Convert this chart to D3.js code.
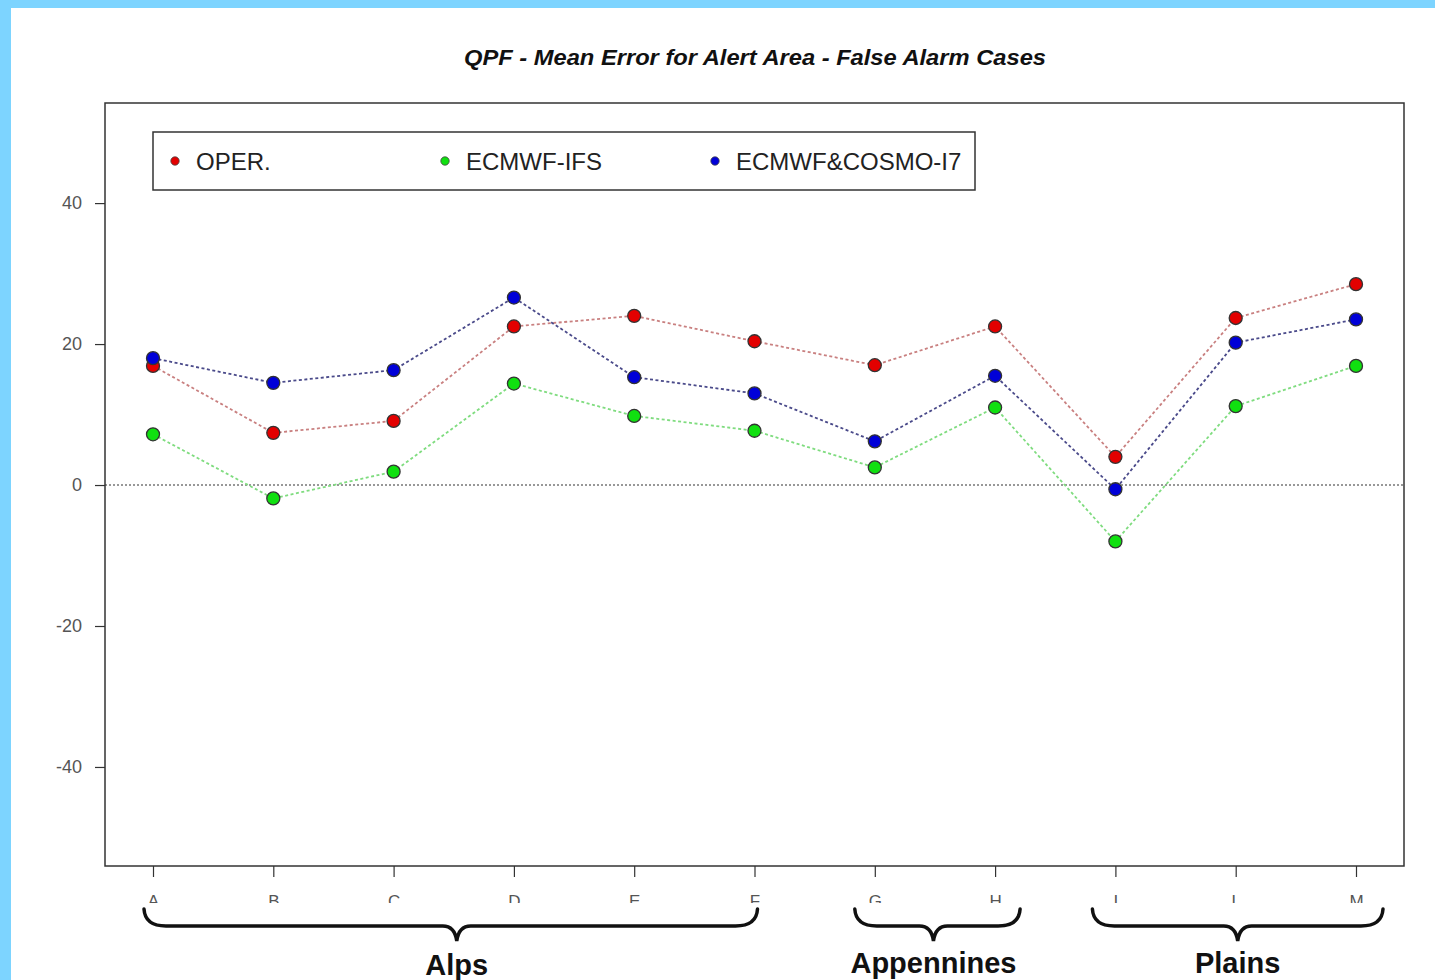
<!DOCTYPE html>
<html>
<head>
<meta charset="utf-8">
<script src="https://cdn.jsdelivr.net/npm/d3@7"></script>
<style>
  html, body { margin: 0; padding: 0; background: #ffffff; }
  svg { display: block; }
</style>
</head>
<body>
<div id="chart"></div>
<script>
// stations along the x axis (no J, K in the Italian alphabet)
const categories = ['A', 'B', 'C', 'D', 'E', 'F', 'G', 'H', 'I', 'L', 'M'];

// mean error values
const operValues   = [16.9, 7.4, 9.1, 22.5, 24.0, 20.4, 17.0, 22.5, 4.0, 23.7, 28.5];
const ifsValues    = [7.2, -1.9, 1.9, 14.4, 9.8, 7.7, 2.5, 11.0, -8.0, 11.2, 16.9];
const cosmoValues  = [18.0, 14.5, 16.3, 26.6, 15.3, 13.0, 6.2, 15.5, -0.6, 20.2, 23.5];

const seriesNames = ['OPER.', 'ECMWF-IFS', 'ECMWF&COSMO-I7'];
const yTicks = [-40, -20, 0, 20, 40];

// area groups under the axis
const groupNames = ['Alps', 'Appennines', 'Plains'];
const groupFirst = ['A', 'G', 'I'];
const groupLast  = ['F', 'H', 'M'];

const series = [
  { name: seriesNames[0], values: operValues,  fill: '#e30000', line: '#c98080' },
  { name: seriesNames[1], values: ifsValues,   fill: '#10e010', line: '#7fdc7f' },
  { name: seriesNames[2], values: cosmoValues, fill: '#0000d8', line: '#4a4a8a' }
];

const W = 1435, H = 980;
const box = { left: 105, right: 1404, top: 103, bottom: 866 };

const svg = d3.select('#chart').append('svg')
  .attr('width', W)
  .attr('height', H);

// light blue frame on top/left
svg.append('rect').attr('x', 0).attr('y', 0).attr('width', W).attr('height', 8).attr('fill', '#7dd4ff');
svg.append('rect').attr('x', 0).attr('y', 0).attr('width', 11).attr('height', H).attr('fill', '#7dd4ff');

const x = d3.scalePoint()
  .domain(categories)
  .range([153, 1356]);

const y = d3.scaleLinear()
  .domain([-54.05, 54.2])
  .range([box.bottom, box.top]);

// title
svg.append('text')
  .attr('x', 755)
  .attr('y', 65)
  .attr('text-anchor', 'middle')
  .attr('textLength', 582)
  .attr('lengthAdjust', 'spacingAndGlyphs')
  .style('font-family', 'Liberation Sans, Arial, sans-serif')
  .style('font-weight', 'bold')
  .style('font-style', 'italic')
  .style('font-size', '22px')
  .style('fill', '#111')
  .text('QPF - Mean Error for Alert Area - False Alarm Cases');

// zero reference line
svg.append('line')
  .attr('x1', box.left).attr('x2', box.right)
  .attr('y1', y(0)).attr('y2', y(0))
  .style('stroke', '#777')
  .style('stroke-width', 1.6)
  .style('stroke-dasharray', '2,2');

// y axis
const yAxis = svg.append('g')
  .attr('transform', `translate(${box.left},0)`)
  .call(d3.axisLeft(y).tickValues(yTicks).tickFormat(d => String(d)).tickSize(10).tickPadding(13));
yAxis.select('.domain').remove();
yAxis.selectAll('line').style('stroke', '#333').style('stroke-width', 1.2);
yAxis.selectAll('text')
  .style('font-family', 'Liberation Sans, Arial, sans-serif')
  .style('font-size', '18px')
  .style('fill', '#555');

// x axis ticks
const xAxis = svg.append('g')
  .attr('transform', `translate(0,${box.bottom})`)
  .call(d3.axisBottom(x).tickSize(11).tickPadding(18));
xAxis.select('.domain').remove();
xAxis.selectAll('line').style('stroke', '#333').style('stroke-width', 1.2);

// x labels are half hidden by the braces: clip them
svg.append('clipPath').attr('id', 'xlabClip')
  .append('rect').attr('x', -40).attr('y', 0).attr('width', 80).attr('height', 37);
xAxis.selectAll('text')
  .attr('clip-path', 'url(#xlabClip)')
  .style('font-family', 'Liberation Sans, Arial, sans-serif')
  .style('font-size', '17px')
  .style('fill', '#555');

// plot box
svg.append('rect')
  .attr('x', box.left).attr('y', box.top)
  .attr('width', box.right - box.left)
  .attr('height', box.bottom - box.top)
  .attr('fill', 'none')
  .style('stroke', '#333')
  .style('stroke-width', 1.5);

// series lines and points
const line = d3.line()
  .x((d, i) => x(categories[i]))
  .y(d => y(d));

series.forEach(s => {
  svg.append('path')
    .datum(s.values)
    .attr('d', line)
    .attr('fill', 'none')
    .style('stroke', s.line)
    .style('stroke-width', 1.8)
    .style('stroke-dasharray', '3,2.5');
});

series.forEach(s => {
  svg.append('g').selectAll('circle')
    .data(s.values)
    .enter()
    .append('circle')
    .attr('cx', (d, i) => x(categories[i]))
    .attr('cy', d => y(d))
    .attr('r', 6.5)
    .style('fill', s.fill)
    .style('stroke', '#333')
    .style('stroke-width', 1.3);
});

// legend
const legend = svg.append('g');
legend.append('rect')
  .attr('x', 153).attr('y', 132)
  .attr('width', 822).attr('height', 58)
  .attr('fill', '#fff')
  .style('stroke', '#333')
  .style('stroke-width', 1.5);

const legendX = [175, 445, 715];
series.forEach((s, i) => {
  legend.append('circle')
    .attr('cx', legendX[i]).attr('cy', 161)
    .attr('r', 4.2)
    .style('fill', s.fill)
    .style('stroke', '#444')
    .style('stroke-width', 0.8);
  legend.append('text')
    .attr('x', legendX[i] + 21)
    .attr('y', 170)
    .style('font-family', 'Liberation Sans, Arial, sans-serif')
    .style('font-size', '24px')
    .style('fill', '#222')
    .text(s.name);
});

// curly braces under the groups
const bracePad = { Alps: [-9, 3], Appennines: [-20, 25], Plains: [-23, 27] };
const tipShift = { Alps: 6, Appennines: -4, Plains: 0 };

function bracePath(x0, x1, m) {
  const top = 909, mid = 926, tip = 941;
  return `M${x0},${top} Q${x0 + 1},${mid} ${x0 + 22},${mid} L${m - 14},${mid} ` +
    `Q${m - 2},${mid} ${m},${tip} Q${m + 2},${mid} ${m + 14},${mid} ` +
    `L${x1 - 22},${mid} Q${x1 - 1},${mid} ${x1},${top}`;
}

groupNames.forEach((g, i) => {
  const x0 = x(groupFirst[i]) + bracePad[g][0];
  const x1 = x(groupLast[i]) + bracePad[g][1];
  const m = (x0 + x1) / 2 + tipShift[g];
  svg.append('path')
    .attr('d', bracePath(x0, x1, m))
    .attr('fill', 'none')
    .style('stroke', '#111')
    .style('stroke-width', 3.5)
    .style('stroke-linecap', 'round');
  svg.append('text')
    .attr('x', m)
    .attr('y', g === 'Appennines' ? 973 : (g === 'Plains' ? 973 : 975))
    .attr('text-anchor', 'middle')
    .style('font-family', 'Liberation Sans, Arial, sans-serif')
    .style('font-weight', 'bold')
    .style('font-size', '29px')
    .style('fill', '#111')
    .text(g);
});
</script>
</body>
</html>
